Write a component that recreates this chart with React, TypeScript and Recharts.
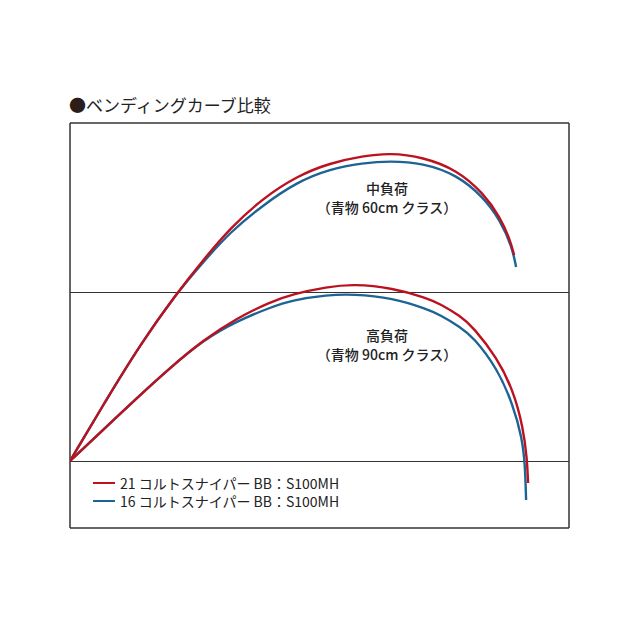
import React from 'react';
import { ScatterChart, Scatter, XAxis, YAxis, ReferenceLine } from 'recharts';

// curve points (x: 0-100 across the box, y: 0-81 up the box)
const midRed = [
  { x: 0, y: 13.4 }, { x: 7.0, y: 25.2 }, { x: 14.0, y: 36.6 }, { x: 21.4, y: 47.0 },
  { x: 26.7, y: 53.6 }, { x: 32.1, y: 60.0 }, { x: 38.7, y: 66.0 }, { x: 45.5, y: 70.4 },
  { x: 52.1, y: 73.0 }, { x: 58.7, y: 74.4 }, { x: 64.1, y: 75.0 }, { x: 70.7, y: 74.2 },
  { x: 77.6, y: 71.6 }, { x: 82.8, y: 67.0 }, { x: 86.2, y: 62.2 }, { x: 88.2, y: 57.6 },
  { x: 89.0, y: 54.6 },
];
const midBlue = [
  { x: 0, y: 13.4 }, { x: 7.0, y: 25.2 }, { x: 14.0, y: 36.6 }, { x: 21.4, y: 47.0 },
  { x: 26.7, y: 53.2 }, { x: 32.1, y: 59.2 }, { x: 38.7, y: 64.6 }, { x: 45.5, y: 69.2 },
  { x: 52.1, y: 71.8 }, { x: 58.7, y: 73.0 }, { x: 64.1, y: 73.4 }, { x: 70.7, y: 73.0 },
  { x: 77.6, y: 70.6 }, { x: 82.8, y: 66.2 }, { x: 86.2, y: 61.6 }, { x: 88.6, y: 56.2 },
  { x: 89.4, y: 52.2 },
];
const highRed = [
  { x: 0, y: 13.4 }, { x: 6.6, y: 19.6 }, { x: 13.4, y: 26.0 }, { x: 20.0, y: 32.0 },
  { x: 26.7, y: 37.6 }, { x: 33.5, y: 42.0 }, { x: 40.1, y: 45.2 }, { x: 44.7, y: 46.8 },
  { x: 51.5, y: 48.2 }, { x: 56.7, y: 48.8 }, { x: 64.7, y: 48.0 }, { x: 71.5, y: 46.0 },
  { x: 74.2, y: 44.8 }, { x: 78.2, y: 42.4 }, { x: 80.8, y: 40.2 }, { x: 85.6, y: 34.0 },
  { x: 88.8, y: 27.6 }, { x: 90.8, y: 20.2 }, { x: 91.6, y: 13.8 }, { x: 91.8, y: 9.0 },
];
const highBlue = [
  { x: 0, y: 13.4 }, { x: 6.6, y: 19.6 }, { x: 13.4, y: 26.0 }, { x: 20.0, y: 32.0 },
  { x: 26.7, y: 37.6 }, { x: 33.5, y: 41.4 }, { x: 40.1, y: 44.1 }, { x: 44.7, y: 45.6 },
  { x: 51.5, y: 46.6 }, { x: 56.7, y: 46.8 }, { x: 64.7, y: 46.0 }, { x: 71.5, y: 43.8 },
  { x: 74.2, y: 42.6 }, { x: 78.2, y: 40.2 }, { x: 80.8, y: 38.2 }, { x: 85.6, y: 32.0 },
  { x: 88.8, y: 24.6 }, { x: 90.6, y: 18.0 }, { x: 91.2, y: 12.6 }, { x: 91.4, y: 5.6 },
];

const dividers = [13.3, 47.1];
const seriesNames = ['21 コルトスナイパー BB：S100MH', '16 コルトスナイパー BB：S100MH'];
const RED = '#bb1220';
const BLUE = '#1d6494';
const FONT = '"Noto Sans CJK JP", "Noto Sans", sans-serif';

const noDot = () => <g />;

const centerText = (top: number, text: string, size: number) => (
  <div
    style={{
      position: 'absolute', left: 287, width: 200, top, textAlign: 'center',
      fontFamily: FONT, fontSize: size, color: '#222', fontWeight: 500, lineHeight: '18px',
    }}
  >
    {text}
  </div>
);

export default function App() {
  const line = (c: string) => ({ stroke: c, strokeWidth: 2.4 });
  return (
    <div style={{ position: 'absolute', left: 0, top: 0, width: 640, height: 640, background: '#fff' }}>
      <div
        style={{
          position: 'absolute', left: 69, top: 92, fontFamily: FONT, fontSize: 17,
          color: '#222', fontWeight: 400, whiteSpace: 'nowrap',
        }}
      >
        <span style={{ color: '#2a1d1a' }}>●</span>ベンディングカーブ比較
      </div>
      <div style={{ position: 'absolute', left: 69, top: 122 }}>
        <ScatterChart width={501} height={407} margin={{ top: 1, right: 1, bottom: 1, left: 1 }}>
          <XAxis type="number" dataKey="x" domain={[0, 100]} allowDataOverflow hide />
          <YAxis type="number" dataKey="y" domain={[0, 81]} allowDataOverflow hide />
          <ReferenceLine x={0} stroke="#333" strokeWidth={1.5} />
          <ReferenceLine x={100} stroke="#333" strokeWidth={1.5} />
          <ReferenceLine y={0} stroke="#333" strokeWidth={1.5} />
          <ReferenceLine y={81} stroke="#333" strokeWidth={1.5} />
          {dividers.map((d) => (
            <ReferenceLine key={d} y={d} stroke="#333" strokeWidth={1} />
          ))}
          <Scatter name={seriesNames[1]} data={midBlue} line={line(BLUE)}
            lineType="joint" lineJointType="basis" shape={noDot} isAnimationActive={false} />
          <Scatter name={seriesNames[1]} data={highBlue} line={line(BLUE)}
            lineType="joint" lineJointType="basis" shape={noDot} isAnimationActive={false} />
          <Scatter name={seriesNames[0]} data={midRed} line={line(RED)}
            lineType="joint" lineJointType="basis" shape={noDot} isAnimationActive={false} />
          <Scatter name={seriesNames[0]} data={highRed} line={line(RED)}
            lineType="joint" lineJointType="basis" shape={noDot} isAnimationActive={false} />
        </ScatterChart>
      </div>
      {centerText(179, '中負荷', 14)}
      {centerText(198, '（青物 60cm クラス）', 14)}
      {centerText(326, '高負荷', 14)}
      {centerText(345, '（青物 90cm クラス）', 14)}
      <div
        style={{
          position: 'absolute', left: 93, top: 474, fontFamily: FONT, fontSize: 14,
          color: '#222', lineHeight: '18px',
        }}
      >
        {[RED, BLUE].map((c, i) => (
          <div key={i} style={{ display: 'flex', alignItems: 'center' }}>
            <span style={{ display: 'inline-block', width: 22, height: 2, background: c, marginRight: 5 }} />
            <span>{seriesNames[i]}</span>
          </div>
        ))}
      </div>
    </div>
  );
}
